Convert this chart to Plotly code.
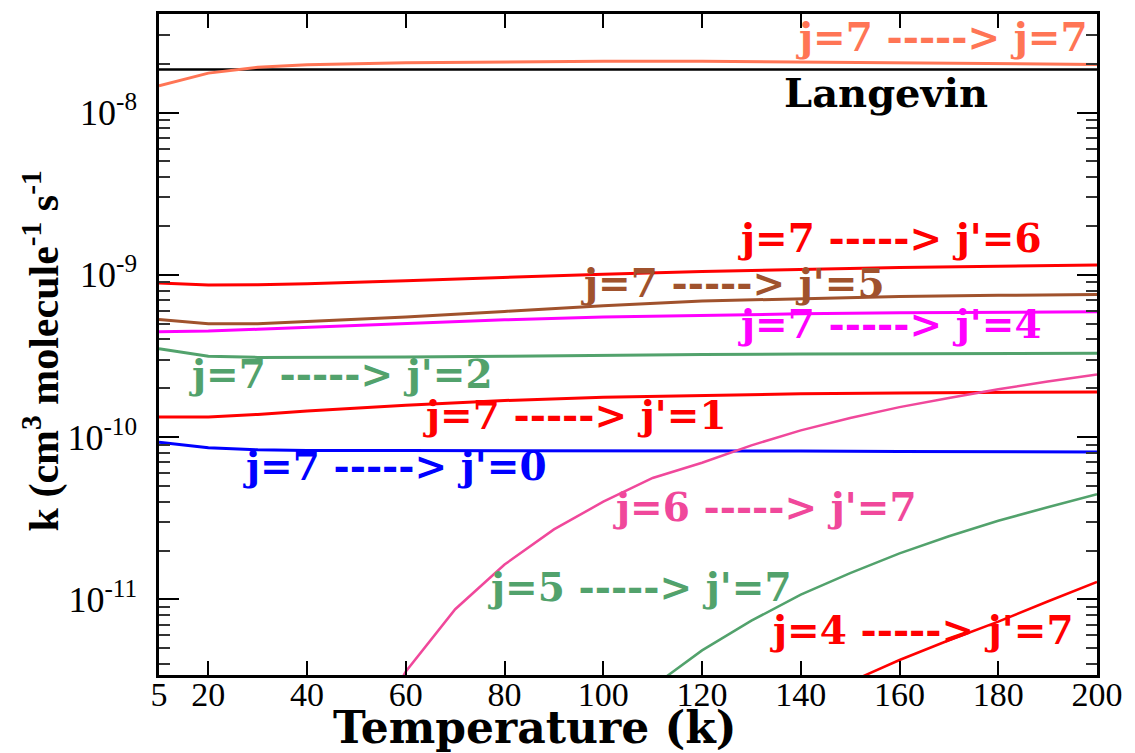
import plotly.graph_objects as go
import math

# ---------------- data ----------------
# temperature grid (the left-most point is labelled "5" on the axis)
T = [10, 20, 30, 40, 60, 80, 100, 120, 140, 160, 180, 200]
x_tick_vals = [10, 20, 40, 60, 80, 100, 120, 140, 160, 180, 200]
x_tick_text = ["5", "20", "40", "60", "80", "100", "120", "140", "160", "180", "200"]

y_tick_vals = [1e-11, 1e-10, 1e-9, 1e-8]
y_tick_text = ["10<sup>-11</sup>", "10<sup>-10</sup>", "10<sup>-9</sup>", "10<sup>-8</sup>"]

T_langevin = [10, 200]
k_langevin = [1.84e-8, 1.84e-8]

k_7_7 = [1.46e-8, 1.75e-8, 1.9e-8, 1.97e-8, 2.03e-8, 2.06e-8, 2.07e-8, 2.07e-8, 2.05e-8, 2.03e-8, 2.0e-8, 1.98e-8]
k_7_6 = [8.9e-10, 8.65e-10, 8.7e-10, 8.8e-10, 9.2e-10, 9.65e-10, 1.01e-9, 1.05e-9, 1.08e-9, 1.11e-9, 1.13e-9, 1.15e-9]
k_7_5 = [5.3e-10, 5.0e-10, 5.0e-10, 5.15e-10, 5.5e-10, 5.95e-10, 6.45e-10, 6.9e-10, 7.15e-10, 7.35e-10, 7.48e-10, 7.57e-10]
k_7_4 = [4.46e-10, 4.5e-10, 4.62e-10, 4.75e-10, 5.0e-10, 5.28e-10, 5.5e-10, 5.65e-10, 5.75e-10, 5.83e-10, 5.88e-10, 5.93e-10]
k_7_2 = [3.5e-10, 3.15e-10, 3.1e-10, 3.1e-10, 3.12e-10, 3.15e-10, 3.2e-10, 3.23e-10, 3.25e-10, 3.27e-10, 3.28e-10, 3.29e-10]
k_7_1 = [1.33e-10, 1.33e-10, 1.38e-10, 1.45e-10, 1.57e-10, 1.68e-10, 1.76e-10, 1.81e-10, 1.85e-10, 1.87e-10, 1.89e-10, 1.9e-10]
k_7_0 = [9.3e-11, 8.6e-11, 8.35e-11, 8.28e-11, 8.27e-11, 8.27e-11, 8.27e-11, 8.25e-11, 8.2e-11, 8.15e-11, 8.12e-11, 8.1e-11]

T_6_7 = [50, 60, 70, 80, 90, 100, 110, 120, 130, 140, 150, 160, 170, 180, 190, 200]
k_6_7 = [1.0e-12, 3.6e-12, 8.7e-12, 1.64e-11, 2.7e-11, 4.0e-11, 5.6e-11, 6.95e-11, 8.9e-11, 1.1e-10, 1.31e-10, 1.53e-10, 1.74e-10, 1.97e-10, 2.2e-10, 2.43e-10]

T_5_7 = [110, 120, 130, 140, 150, 160, 170, 180, 190, 200]
k_5_7 = [2.9e-12, 4.85e-12, 7.4e-12, 1.07e-11, 1.45e-11, 1.92e-11, 2.45e-11, 3.05e-11, 3.7e-11, 4.45e-11]

T_4_7 = [150, 160, 170, 180, 190, 200]
k_4_7 = [3.1e-12, 4.23e-12, 5.6e-12, 7.3e-12, 9.7e-12, 1.28e-11]

# ---------------- styles ----------------
CORAL = "#FF7555"
RED = "#FF0000"
BROWN = "#A0522D"
MAGENTA = "#FF00FF"
GREEN = "#52A26C"
BLUE = "#0000FF"
PINK = "#F0489B"

series = [
    (T_langevin, k_langevin, "black", 2.5),
    (T, k_7_7, CORAL, 3),
    (T, k_7_6, RED, 3),
    (T, k_7_5, BROWN, 3),
    (T, k_7_4, MAGENTA, 3),
    (T, k_7_2, GREEN, 3),
    (T, k_7_1, RED, 3),
    (T, k_7_0, BLUE, 3),
    (T_6_7, k_6_7, PINK, 2.5),
    (T_5_7, k_5_7, GREEN, 2.5),
    (T_4_7, k_4_7, RED, 2.5),
]

fig = go.Figure()
for xs, ys, col, w in series:
    fig.add_trace(go.Scatter(x=xs, y=ys, mode="lines",
                             line=dict(color=col, width=w), showlegend=False,
                             hoverinfo="skip"))

# plot area in page pixels (page has an 8px body margin)
OFF = 8
L, R, TOP, BOT = 159, 1097, 11, 675
W, H = 1135 - OFF, 753 - OFF


def px(xp, yp):
    return (xp - L) / (R - L), (BOT - yp) / (BOT - TOP)


ANN_FONT = "DejaVu Serif"
labels = [
    ("j=7 -----> j=7", 942, 34, CORAL),
    ("Langevin", 886, 90, "black"),
    ("j=7 -----> j'=6", 890, 236, RED),
    ("j=7 -----> j'=5", 733, 281, BROWN),
    ("j=7 -----> j'=4", 890, 322, MAGENTA),
    ("j=7 -----> j'=2", 341, 373, GREEN),
    ("j=7 -----> j'=1", 575, 414, RED),
    ("j=7 -----> j'=0", 395, 465, BLUE),
    ("j=6 -----> j'=7", 765, 506, PINK),
    ("j=5 -----> j'=7", 640, 587, GREEN),
    ("j=4 -----> j'=7", 922, 630, RED),
]
for text, xp, yp, col in labels:
    xx, yy = px(xp, yp)
    size = 40 if text == "Langevin" else 39
    fig.add_annotation(text=text, x=xx, y=yy, xref="paper", yref="paper",
                       showarrow=False, xanchor="center", yanchor="middle",
                       font=dict(family=ANN_FONT, size=size, color=col, weight="bold"))

# axis titles as annotations (positioned like the reference)
xx, yy = px(535, 728)
fig.add_annotation(text="Temperature (k)", x=xx, y=yy, xref="paper", yref="paper",
                   showarrow=False, xanchor="center", yanchor="middle",
                   font=dict(family="DejaVu Serif", size=44, color="black", weight="bold"))
xx, yy = px(42, 350)
fig.add_annotation(text="k (cm<sup>3</sup> molecule<sup>-1</sup> s<sup>-1</sup>",
                   x=xx, y=yy, xref="paper", yref="paper", textangle=-90,
                   showarrow=False, xanchor="center", yanchor="middle",
                   font=dict(family="Liberation Serif", size=42, color="black", weight="bold"))

fig.update_xaxes(
    range=[10, 200], tickmode="array", tickvals=x_tick_vals, ticktext=x_tick_text,
    ticks="inside", ticklen=14, tickwidth=2, tickcolor="black",
    showline=True, linewidth=2.5, linecolor="black", mirror="ticks",
    showgrid=False, zeroline=False,
    tickfont=dict(family="Liberation Serif", size=34, color="black"),
    ticklabelstandoff=-13,
)
fig.update_yaxes(
    type="log",
    range=[math.log10(3.42e-12), math.log10(4.05e-8)],
    tickmode="array", tickvals=y_tick_vals, ticktext=y_tick_text,
    ticks="inside", ticklen=20, tickwidth=2, tickcolor="black",
    minor=dict(ticks="inside", ticklen=11, tickwidth=1.5, tickcolor="#333",
               tickmode="array",
               tickvals=[m * 10.0 ** e for e in (-12, -11, -10, -9, -8) for m in range(2, 10)]),
    showline=True, linewidth=2.5, linecolor="black", mirror="ticks",
    showgrid=False, zeroline=False,
    tickfont=dict(family="Liberation Serif", size=36, color="black"),
    ticklabelstandoff=12,
)
fig.update_layout(
    width=W, height=H,
    margin=dict(l=L - OFF, r=(1135 - R), t=TOP - OFF, b=(753 - BOT)),
    plot_bgcolor="white", paper_bgcolor="white",
)
fig.write_html("out.html")
